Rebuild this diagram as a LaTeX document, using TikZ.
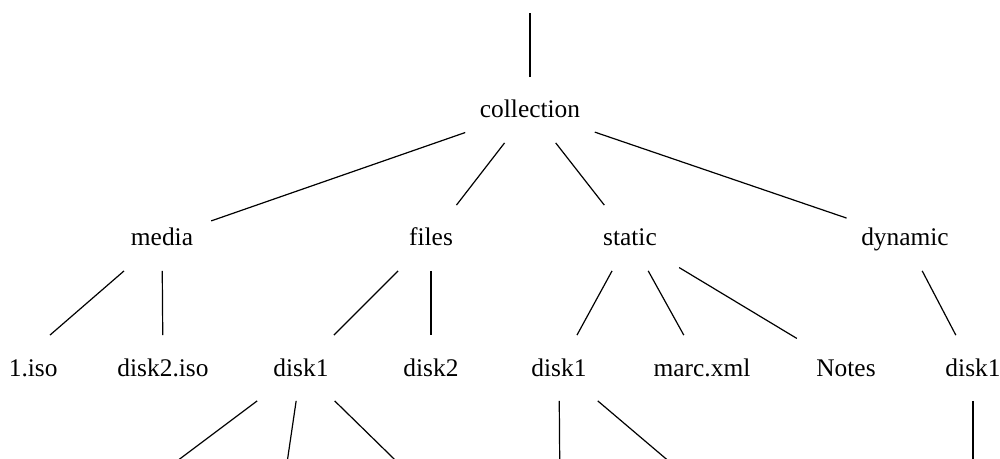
\documentclass[tikz,border=0pt]{standalone}
\usepackage{fontspec}
\setmainfont{Liberation Serif}
\begin{document}
\begin{tikzpicture}[x=0.5pt,y=-0.5pt,
  lbl/.style={rectangle, inner xsep=7.15pt, inner ysep=0pt,
    minimum width=48.75pt, minimum height=32.5pt,
    text height=10pt, text depth=2pt,
    font=\fontsize{12.7}{15}\selectfont},
  link/.style={line width=0.6pt, draw=black}]
\useasboundingbox (0,0) rectangle (1000,459);
\clip (0,0) rectangle (1000,459);
% level 1
\node[lbl] (coll) at (530,110) {collection};
\coordinate (top) at (530,13);
% level 2
\node[lbl] (media)   at (162,238) {media};
\node[lbl] (files)   at (431,238) {files};
\node[lbl] (static)  at (630,238) {static};
\node[lbl] (dynamic) at (905,238) {dynamic};
% level 3
\node[lbl, text width=45.5pt, align=right] (iso1) at (12,368) {1.iso};
\node[lbl] (disk2iso) at (163,368) {disk2.iso};
\node[lbl] (fdisk1)   at (301,368) {disk1};
\node[lbl] (fdisk2)   at (431,368) {disk2};
\node[lbl] (sdisk1)   at (559,368) {disk1};
\node[lbl] (marc)     at (702,368) {marc.xml};
\node[lbl] (notes)    at (846,368) {Notes};
\node[lbl] (ddisk1)   at (973,368) {disk1};
% level 4 (outside the picture)
\coordinate (c1) at (129,497);
\coordinate (c2) at (282,497);
\coordinate (c3) at (433,497);
\coordinate (c4) at (560,497);
\coordinate (c5) at (711,497);
\coordinate (c6) at (973,497);
% connectors
\draw[link] (coll) -- (top);
\draw[link] (coll) -- (media);
\draw[link] (coll) -- (files);
\draw[link] (coll) -- (static);
\draw[link] (coll) -- (dynamic);
\draw[link] (media) -- (iso1);
\draw[link] (media) -- (disk2iso);
\draw[link] (files) -- (fdisk1);
\draw[link] (files) -- (fdisk2);
\draw[link] (static) -- (sdisk1);
\draw[link] (static) -- (marc);
\draw[link] (static) -- (notes);
\draw[link] (dynamic) -- (ddisk1);
\draw[link] (fdisk1) -- (c1);
\draw[link] (fdisk1) -- (c2);
\draw[link] (fdisk1) -- (c3);
\draw[link] (sdisk1) -- (c4);
\draw[link] (sdisk1) -- (c5);
\draw[link] (ddisk1) -- (c6);
\end{tikzpicture}
\end{document}
